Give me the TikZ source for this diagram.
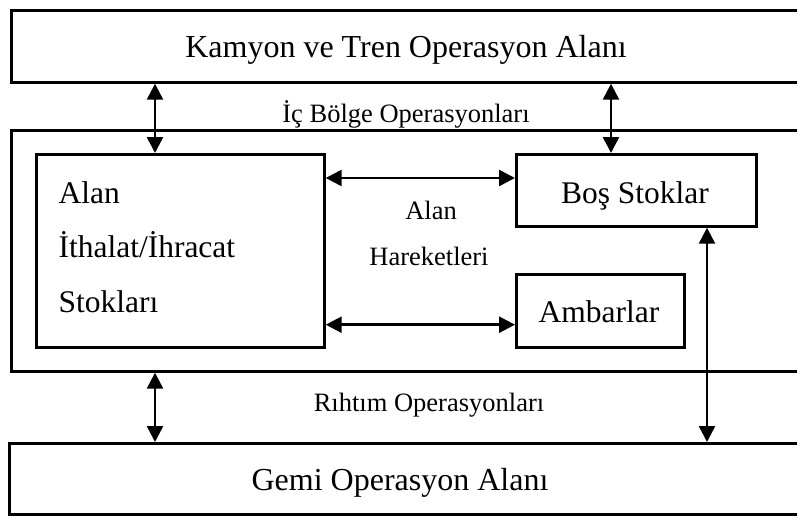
\documentclass[tikz,border=0pt]{standalone}
\usepackage{fontspec}
\setmainfont{Liberation Serif}
\usetikzlibrary{arrows.meta}
\tikzset{
  box/.style={draw, line width=2.7pt, rectangle, inner sep=0pt, anchor=north west},
  dbl/.style={line width=2.5pt, {Triangle[length=16pt,width=16pt]}-{Triangle[length=16pt,width=16pt]}},
  big/.style={font=\fontsize{32}{38}\selectfont, anchor=base},
  mid/.style={font=\fontsize{31.5}{38}\selectfont, anchor=base},
  small/.style={font=\fontsize{26.5}{32}\selectfont, anchor=base},
}
\begin{document}
\begin{tikzpicture}[x=1pt, y=-1pt]
  \useasboundingbox (0,0) rectangle (797,516);
  \clip (0,0) rectangle (797,516);

  % outer bands (run past the right margin)
  \node[box, minimum width=812pt, minimum height=72pt] (truck) at (10,9) {};
  \node[box, minimum width=812pt, minimum height=241pt] (yard) at (10,129) {};
  \node[box, minimum width=814pt, minimum height=71pt] (ship) at (8,442) {};

  % inner blocks
  \node[box, minimum width=288pt, minimum height=193pt] (stocks) at (35,153) {};
  \node[box, minimum width=240pt, minimum height=72pt] (empty) at (515,153) {};
  \node[box, minimum width=168pt, minimum height=73pt] (store) at (515,273) {};

  % labels
  \node[big] (ttruck) at (406,58) {Kamyon ve Tren Operasyon Alanı};
  \node[small] (tinner) at (406,123) {İç Bölge Operasyonları};
  \node[mid, anchor=base west] (ts1) at (55,203) {Alan};
  \node[mid, anchor=base west] (ts2) at (55,257) {İthalat/İhracat};
  \node[mid, anchor=base west] (ts3) at (55,312) {Stokları};
  \node[mid] (tempty) at (635,203) {Boş Stoklar};
  \node[mid] (tstore) at (599,322) {Ambarlar};
  \node[small] (tmove1) at (431,219) {Alan};
  \node[small] (tmove2) at (429,265) {Hareketleri};
  \node[small] (tquay) at (429,411) {Rıhtım Operasyonları};
  \node[big] (tship) at (400,490) {Gemi Operasyon Alanı};

  % connectors
  \draw[dbl] ([xshift=120pt]stocks.north west |- truck.south) -- ([xshift=120pt]stocks.north west);
  \draw[dbl] ([xshift=96pt]empty.north west |- truck.south) -- ([xshift=96pt]empty.north west);
  \draw[dbl] ([xshift=145pt]yard.south west) -- ([xshift=145pt]yard.south west |- ship.north);
  \draw[dbl] ([xshift=192pt]empty.south west) -- ([xshift=192pt]empty.south west |- ship.north);
  \draw[dbl] ([yshift=-25pt]stocks.north east) -- ([yshift=-25pt]stocks.north east -| empty.west);
  \draw[dbl] ([yshift=24pt]stocks.south east) -- ([yshift=24pt]stocks.south east -| store.west);
\end{tikzpicture}
\end{document}
